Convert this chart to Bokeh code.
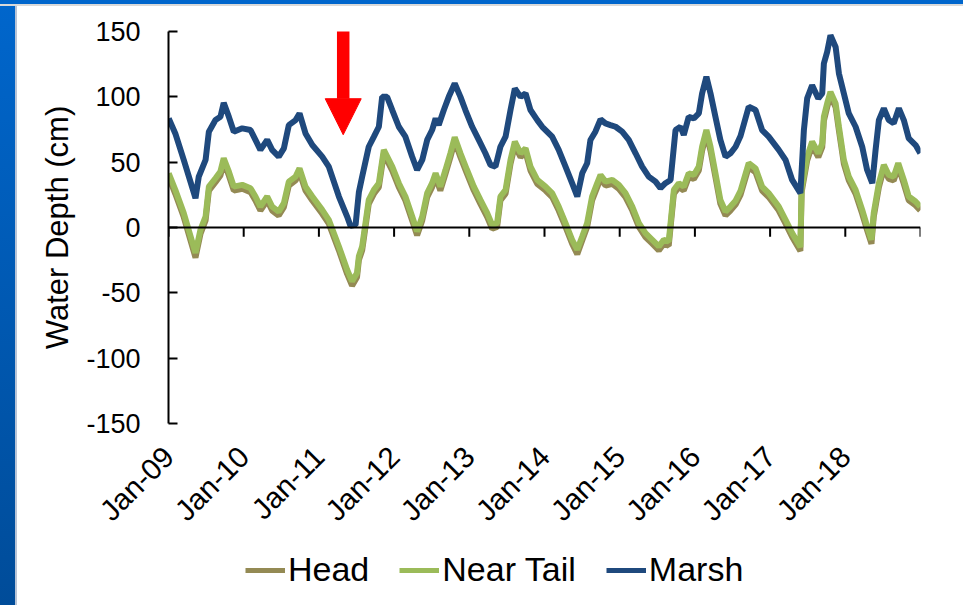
import math
import numpy as np
import pandas as pd
from bokeh.plotting import figure
from bokeh.layouts import column
from bokeh.models import (FixedTicker, LinearAxis, Legend, LegendItem, Range1d,
                          Arrow, NormalHead, Span)
from bokeh.embed import file_html
from bokeh.resources import INLINE

# ---- water depth records (cm) ----
marsh_dates = [
    "2009-01-02", "2009-02-03", "2009-03-16", "2009-05-12", "2009-05-28", "2009-06-30", "2009-07-16",
    "2009-08-17", "2009-09-10", "2009-09-26", "2009-10-21", "2009-11-14", "2009-12-25",
    "2010-02-03", "2010-02-27", "2010-03-23", "2010-04-25", "2010-05-19", "2010-06-20", "2010-07-15",
    "2010-08-08", "2010-09-10", "2010-09-29", "2010-10-28", "2010-11-30",
    "2011-01-17", "2011-02-18", "2011-04-08", "2011-05-18", "2011-06-03", "2011-06-28", "2011-07-14",
    "2011-07-30", "2011-08-31", "2011-09-25", "2011-10-19", "2011-11-04", "2011-11-28", "2011-12-23",
    "2012-01-24", "2012-02-25", "2012-03-29", "2012-04-22", "2012-05-17", "2012-06-10", "2012-07-04",
    "2012-07-21", "2012-08-05", "2012-08-30", "2012-09-23", "2012-10-22", "2012-11-19", "2012-12-13",
    "2013-01-15", "2013-02-16", "2013-03-20", "2013-04-14", "2013-05-08", "2013-06-01", "2013-06-26",
    "2013-07-20", "2013-08-10", "2013-09-07", "2013-10-01", "2013-10-25", "2013-11-27", "2013-12-21",
    "2014-01-06", "2014-02-07", "2014-03-11", "2014-04-13", "2014-05-15", "2014-06-09", "2014-07-03",
    "2014-07-27", "2014-08-12", "2014-09-05", "2014-09-30", "2014-10-24", "2014-11-17", "2014-12-12",
    "2015-01-13", "2015-02-14", "2015-03-19", "2015-04-20", "2015-05-22", "2015-06-24", "2015-07-18",
    "2015-08-11", "2015-09-05", "2015-09-29", "2015-10-23", "2015-11-08", "2015-12-02", "2015-12-27",
    "2016-01-20", "2016-02-05", "2016-02-26", "2016-03-17", "2016-04-10", "2016-05-04", "2016-05-29",
    "2016-06-22", "2016-07-17", "2016-08-10", "2016-09-19", "2016-10-22", "2016-11-23", "2016-12-25",
    "2017-02-12", "2017-03-17", "2017-04-18", "2017-05-28", "2017-06-14", "2017-06-30", "2017-07-24",
    "2017-08-23", "2017-09-11", "2017-09-19", "2017-10-05", "2017-10-21", "2017-11-15", "2017-12-01",
    "2017-12-25",
    "2018-01-18", "2018-02-20", "2018-03-24", "2018-04-17", "2018-05-12", "2018-05-28", "2018-06-13",
    "2018-07-07", "2018-07-31", "2018-08-24", "2018-09-18", "2018-10-12", "2018-11-05", "2018-12-08",
    "2018-12-31",
]
marsh_depth = [
    83.5, 72, 51.7, 22.4, 39, 51.7, 73.3, 82.2, 84.7, 95.4, 84.7, 73.3, 75.9,
    74.6, 67, 59.4, 67, 59.4, 54.2, 60.6, 78.4, 82.2, 87.3, 72, 63.1,
    54.2, 46.6, 23.7, 8.4, 1.3, 2, 27, 39, 61.8, 69.5, 77.1, 100, 100, 89.9,
    77.1, 69.5, 54.2, 44, 51.7, 67, 74.6, 83.5, 78.4, 89.9, 100, 110.2, 100, 89.9,
    77.1, 67, 56.8, 47.9, 46.6, 61.8, 69.5, 89.9, 106.4, 100, 102.6, 89.9, 82.2, 77.1,
    74.6, 69.5, 59.4, 46.6, 33.9, 23.7, 41.5, 49.2, 67, 73.3, 82.8, 79.7, 78.4, 77.1,
    73.3, 67, 56.8, 46.6, 39, 35.1, 30.1, 33.9, 36.4, 74.6, 77.1, 70.8, 84.7, 83.5,
    87.3, 102.6, 115.3, 102.6, 84.7, 67, 54.2, 56.8, 61.8, 70, 92.4, 89.9, 74.6, 69.5,
    59.4, 51.7, 36.4, 26.3, 74.6, 98.8, 108.9, 98.8, 102.6, 125.5, 134.4, 147.1, 138.2, 117.9, 102.6,
    87.3, 77.1, 61.8, 44, 33.9, 59.4, 82.2, 91.2, 82.2, 79.7, 91.2, 82.2, 68.2, 63.1, 56.8,
]

tail_dates = [
    "2009-01-02", "2009-02-03", "2009-03-16", "2009-05-12", "2009-06-05", "2009-06-30", "2009-07-16",
    "2009-08-17", "2009-09-10", "2009-09-26", "2009-10-21", "2009-11-14", "2009-12-25",
    "2010-02-03", "2010-02-27", "2010-03-23", "2010-04-25", "2010-05-19", "2010-06-20", "2010-07-15",
    "2010-08-08", "2010-09-10", "2010-09-29", "2010-10-28", "2010-11-30",
    "2011-01-17", "2011-02-18", "2011-04-08", "2011-05-18", "2011-06-11", "2011-07-05", "2011-07-14",
    "2011-07-30", "2011-08-15", "2011-08-31", "2011-09-25", "2011-10-19", "2011-11-12", "2011-12-23",
    "2012-01-24", "2012-02-25", "2012-03-29", "2012-04-22", "2012-05-17", "2012-06-10", "2012-07-04",
    "2012-07-21", "2012-08-13", "2012-09-07", "2012-10-01", "2012-10-22", "2012-11-19", "2012-12-21",
    "2013-01-23", "2013-02-24", "2013-03-29", "2013-04-22", "2013-05-16", "2013-06-01", "2013-06-26",
    "2013-07-20", "2013-08-10", "2013-09-07", "2013-10-01", "2013-10-25", "2013-11-27",
    "2014-01-06", "2014-02-07", "2014-03-11", "2014-04-13", "2014-05-15", "2014-06-09", "2014-07-03",
    "2014-07-27", "2014-08-20", "2014-09-14", "2014-09-30", "2014-10-24", "2014-11-26", "2014-12-28",
    "2015-01-29", "2015-03-03", "2015-04-04", "2015-05-06", "2015-06-08", "2015-07-10", "2015-08-03",
    "2015-08-27", "2015-09-21", "2015-10-15", "2015-11-08", "2015-12-02", "2015-12-27",
    "2016-01-20", "2016-02-05", "2016-02-26", "2016-03-17", "2016-04-10", "2016-05-04", "2016-05-29",
    "2016-06-22", "2016-07-17", "2016-08-10", "2016-09-19", "2016-10-22", "2016-11-23", "2016-12-25",
    "2017-02-12", "2017-03-17", "2017-04-18", "2017-05-28", "2017-06-03", "2017-06-30", "2017-07-24",
    "2017-08-23", "2017-09-11", "2017-09-19", "2017-10-05", "2017-10-21", "2017-11-15", "2017-12-01",
    "2017-12-25",
    "2018-01-18", "2018-02-20", "2018-03-24", "2018-04-17", "2018-05-08", "2018-05-19", "2018-06-13",
    "2018-07-07", "2018-07-31", "2018-08-24", "2018-09-15", "2018-10-12", "2018-11-05", "2018-12-08",
    "2018-12-31",
]
near_tail_depth = [
    41.5, 28.8, 11, -19.5, -1.8, 8.4, 31.3, 37.7, 42.8, 53, 42.8, 31.3, 32.6,
    30.1, 23.7, 16, 23.7, 16, 12.2, 18.6, 35.1, 39, 45.3, 31.3, 23.7,
    13.5, 5.9, -14.5, -32.3, -41.2, -34.8, -22, -14.5, 3.4, 21.1, 28.8, 33.9, 59.4, 46.6,
    33.9, 23.7, 8.4, -3, 8.4, 26.3, 33.9, 41.5, 31.3, 44, 56.8, 69, 56.8, 44,
    31.3, 21.1, 11, 2, 3.4, 23.7, 28.8, 51.7, 65.7, 56.8, 60.6, 46.6, 36.4,
    31.3, 26.3, 16, 3.4, -9.4, -17, -6.9, 3.4, 23.7, 33.9, 40.2, 35.1, 36.4, 32.6,
    26.3, 16, 3.4, -4.3, -9.4, -14.5, -9.4, -10.7, 28.8, 33.9, 31.3, 41.5, 40.2,
    46.6, 61.8, 74.6, 61.8, 41.5, 21.1, 12.2, 16, 20.5, 28, 49.2, 45.3, 31.3, 26.3,
    16, 5.9, -4.3, -15, 30, 54.2, 65.7, 56.8, 64.4, 84.7, 95, 103.8, 95, 77.1, 51.7,
    39, 28.8, 13.5, 0.8, -9.4, 11, 33.9, 47.9, 40.2, 39, 49.2, 36.4, 23.7, 19.9, 16,
]
head_depth = [
    38.5, 25.8, 8, -23, -5, 5.4, 28.3, 34.7, 39.8, 50, 39.8, 28.3, 29.6,
    27.1, 20.7, 13, 20.7, 13, 9.2, 15.6, 32.1, 36, 42.3, 28.3, 20.7,
    10.5, 2.9, -17.5, -35.5, -44.5, -38, -25, -17.5, 0.4, 18.1, 25.8, 30.9, 56.4, 43.6,
    30.9, 20.7, 5.4, -6, 5.4, 23.3, 30.9, 38.5, 28.3, 41, 53.8, 66, 53.8, 41,
    28.3, 18.1, 8, -1, 0.4, 20.7, 25.8, 48.7, 62.7, 53.8, 57.6, 43.6, 33.4,
    28.3, 23.3, 13, 0.4, -12.4, -20.5, -10, 0.4, 20.7, 30.9, 37.2, 32.1, 33.4, 29.6,
    23.3, 13, 0.4, -7.3, -12.4, -17.5, -12.4, -14, 25.8, 30.9, 28.3, 38.5, 37.2,
    43.6, 58.8, 71.6, 58.8, 38.5, 18.1, 9.2, 13, 17.5, 25, 46.2, 42.3, 28.3, 23.3,
    13, 2.9, -7.3, -18, 27, 51.2, 62.7, 53.8, 61.4, 81.7, 92, 100.8, 92, 74.1, 48.7,
    36, 25.8, 10.5, -2.2, -12.5, 8, 30.9, 44.9, 37.2, 36, 46.2, 33.4, 20.7, 16.9, 13,
]

# axis ticks: one mark per January, labels on all but the closing year
year_ticks = list(range(2009, 2020))
label_years = list(range(2009, 2019))
year_labels = ["Jan-09", "Jan-10", "Jan-11", "Jan-12", "Jan-13", "Jan-14",
               "Jan-15", "Jan-16", "Jan-17", "Jan-18"]
depth_ticks = [-150, -100, -50, 0, 50, 100, 150]
depth_labels = ["-150", "-100", "-50", "0", "50", "100", "150"]

series_names = ["Head", "Near Tail", "Marsh"]

# annotation arrow marking the 2011 drawdown
arrow_date = "2011-04-29"
arrow_top, arrow_tip = 157, 71

FONT = "Liberation Sans"
HEAD_COLOR = "#948A54"
TAIL_COLOR = "#9BBB59"
MARSH_COLOR = "#1F497D"
COLORS = [HEAD_COLOR, TAIL_COLOR, MARSH_COLOR]
TICK_LEN = 7  # depth units (~9 px)
LINE_W = 6


def year_fraction(dates):
    d = pd.DatetimeIndex(pd.to_datetime(dates))
    days = np.where(d.is_leap_year, 366, 365)
    return np.asarray(d.year + (d.dayofyear - 1) / days, dtype=float)


series = [(year_fraction(tail_dates), head_depth),
          (year_fraction(tail_dates), near_tail_depth),
          (year_fraction(marsh_dates), marsh_depth)]

p = figure(width=963, height=545, output_backend="svg", toolbar_location=None,
           x_range=Range1d(2009, 2019), y_range=Range1d(-150, 150),
           x_axis_location=None, y_axis_location="left",
           min_border_left=168, min_border_right=43,
           min_border_top=31, min_border_bottom=122)

p.background_fill_color = "white"
p.border_fill_color = None
p.outline_line_color = None
p.xgrid.visible = False
p.ygrid.visible = False

# y axis
ya = p.yaxis[0]
ya.ticker = FixedTicker(ticks=depth_ticks)
ya.major_label_overrides = {t: s for t, s in zip(depth_ticks, depth_labels)}
ya.axis_label = "Water Depth (cm)"
ya.axis_label_text_font = FONT
ya.axis_label_text_font_size = "31px"
ya.axis_label_text_font_style = "normal"
ya.axis_label_text_color = "black"
ya.axis_label_standoff = 8
ya.major_label_text_font = FONT
ya.major_label_text_font_size = "27px"
ya.major_label_text_color = "black"
ya.major_label_standoff = 28
ya.major_tick_in = 9
ya.major_tick_out = 0
ya.minor_tick_line_color = None
ya.axis_line_width = 2
ya.major_tick_line_width = 2
ya.axis_line_color = "black"
ya.major_tick_line_color = "black"

# x labels sit along the bottom of the frame
label_axis = LinearAxis(ticker=FixedTicker(ticks=label_years),
                        major_label_overrides={t: s for t, s in zip(label_years, year_labels)},
                        major_label_orientation=math.pi / 4,
                        major_label_text_font=FONT,
                        major_label_text_font_size="29.5px",
                        major_label_text_color="black",
                        major_label_standoff=22,
                        axis_line_color=None, major_tick_line_color=None,
                        minor_tick_line_color=None)
p.add_layout(label_axis, "below")

# x axis line with downward ticks, crossing at zero depth
p.add_layout(Span(location=0, dimension="width", line_color="black", line_width=2))
p.segment(x0=year_ticks, y0=[0] * len(year_ticks), x1=year_ticks,
          y1=[-TICK_LEN] * len(year_ticks), line_color="black", line_width=2)

for (xs, ys), c in zip(series, COLORS):
    p.line(xs, ys, line_color=c, line_width=LINE_W)

ax = float(year_fraction([arrow_date])[0])
p.add_layout(Arrow(x_start=ax, y_start=arrow_top, x_end=ax, y_end=arrow_tip,
                   line_color="#FF0000", line_width=12.5,
                   end=NormalHead(size=36, fill_color="#FF0000", line_color="#FF0000",
                                  line_width=1)))

# legend strip under the chart; its frame lines up with the chart's frame,
# and its series sit outside the strip's visible depth window
lg = figure(width=963, height=60, output_backend="svg", toolbar_location=None,
            x_range=p.x_range, y_range=Range1d(1000, 1001),
            x_axis_location=None, y_axis_location=None,
            min_border_left=0, min_border_right=0, min_border_top=0, min_border_bottom=0)
lg.background_fill_color = None
lg.border_fill_color = None
lg.outline_line_color = None
lg.xgrid.visible = False
lg.ygrid.visible = False
swatches = [lg.line(xs, ys, line_color=c, line_width=5) for (xs, ys), c in zip(series, COLORS)]
legend = Legend(items=[LegendItem(label=n, renderers=[r]) for n, r in zip(series_names, swatches)],
                location=(77, 16), orientation="horizontal",
                label_text_font=FONT, label_text_font_size="34px",
                label_text_color="black",
                glyph_width=40, glyph_height=34, label_height=34,
                label_standoff=3, spacing=30, padding=0, margin=0,
                border_line_color=None, background_fill_alpha=0)
lg.add_layout(legend)

page = column(p, lg, spacing=0)
page.styles = {
    "background": (
        "linear-gradient(#0066CC, #0066CC) 0 0 / 100% 4px no-repeat, "
        "linear-gradient(#D9D9D9, #D9D9D9) 0 4px / 100% 2px no-repeat, "
        "linear-gradient(to bottom, #0066CC, #004C99) 0 0 / 15px 100% no-repeat, "
        "linear-gradient(#B8C4D6, #B8C4D6) 15px 0 / 2px 100% no-repeat, "
        "#FFFFFF"
    )
}

open("out.html", "w").write(file_html(page, INLINE))
